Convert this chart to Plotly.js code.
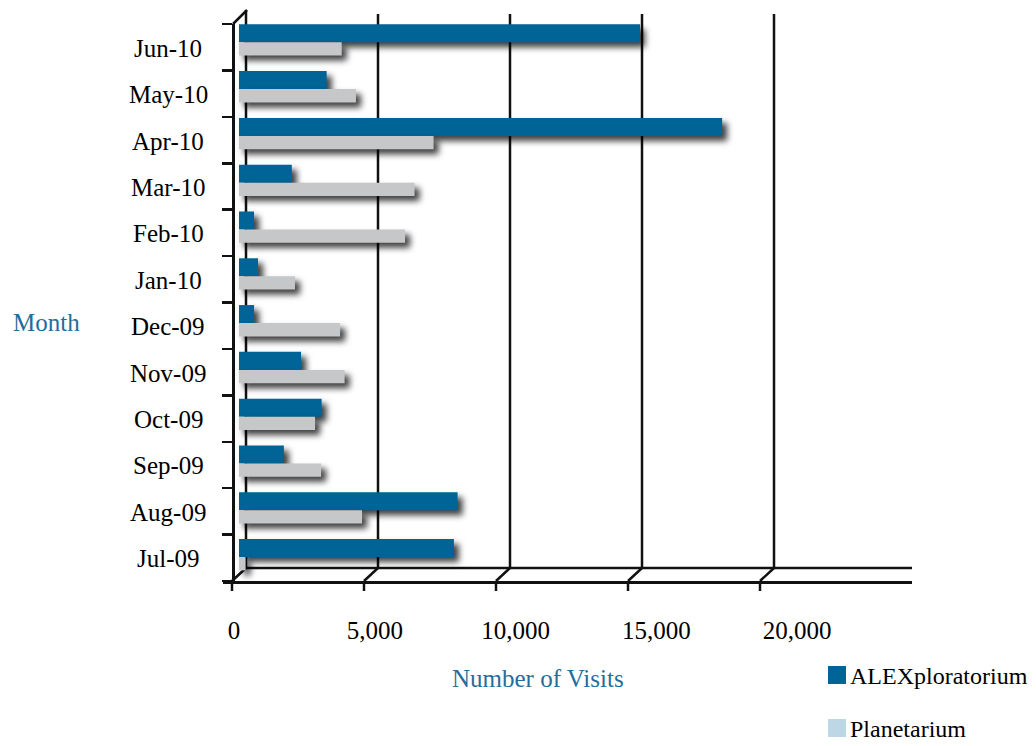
<!DOCTYPE html>
<html>
<head>
<meta charset="utf-8">
<script src="https://cdn.plot.ly/plotly-3.0.1.min.js"></script>
<style>
  html, body { margin: 0; padding: 0; background: #fff; }
  #chart { width: 1036px; height: 746px; }
  .barlayer .point path { filter: drop-shadow(5px 5px 3px rgba(0,0,0,0.75)); }
</style>
</head>
<body>
<div id="chart"></div>
<script>
// ---- data ----
const months = ['Jul-09','Aug-09','Sep-09','Oct-09','Nov-09','Dec-09','Jan-10','Feb-10','Mar-10','Apr-10','May-10','Jun-10'];
const alexVisits = [8140, 8280, 1700, 3130, 2350, 570, 720, 570, 2000, 18300, 3320, 15190];
const planVisits = [250, 4660, 3110, 2880, 4000, 3830, 2120, 6290, 6650, 7370, 4430, 3890];
const seriesNames = ['ALEXploratorium', 'Planetarium'];
const barColors = ['#006496', '#c6c7c9'];
const legendColors = ['#006496', '#bdd7e6'];
const xTickVals = [0, 5000, 10000, 15000, 20000];
const xTickText = ['0', '5,000', '10,000', '15,000', '20,000'];
const xTitle = 'Number of Visits';
const yTitle = 'Month';

// ---- geometry helpers (page pixels -> paper) ----
const L = 223, R = 912, T = 24, B = 581;
const px = p => (p - L) / (R - L);
const py = p => (B - p) / (B - T);
const FONT = 'Liberation Serif, Times New Roman, serif';
const TITLE_COLOR = '#1e6e9e';
const LINE = {color: '#111', width: 2.5};

const traces = [
  {type: 'bar', orientation: 'h', name: seriesNames[0], y: months, x: alexVisits,
   marker: {color: barColors[0], line: {width: 0}}, width: 0.385, offset: 0,
   showlegend: false, hoverinfo: 'x+y'},
  {type: 'bar', orientation: 'h', name: seriesNames[1], y: months, x: planVisits,
   marker: {color: barColors[1], line: {width: 0}}, width: 0.284, offset: -0.284,
   showlegend: false, hoverinfo: 'x+y'},
  {type: 'scatter', x: [null], y: [null], xaxis: 'x2', yaxis: 'y2',
   showlegend: false, hoverinfo: 'skip'}
];

const shapes = [];
xTickVals.forEach(v => {
  // back wall grid line
  shapes.push({type: 'line', layer: 'below', xref: 'x', xsizemode: 'pixel', xanchor: v,
    x0: 7, x1: 7, yref: 'paper', y0: py(568), y1: py(v === 0 ? 10 : 14), line: LINE});
  // floor diagonal
  shapes.push({type: 'line', layer: 'below', xref: 'x', xsizemode: 'pixel', xanchor: v,
    x0: -7, x1: 7, yref: 'paper', y0: py(581), y1: py(568), line: LINE});
  // front tick
  shapes.push({type: 'line', layer: 'below', xref: 'x', xsizemode: 'pixel', xanchor: v,
    x0: -7, x1: -7, yref: 'paper', y0: py(581), y1: py(591), line: LINE});
});
// back floor line
shapes.push({type: 'line', layer: 'below', xref: 'paper', yref: 'paper',
  x0: px(246), x1: 1, y0: py(568), y1: py(568), line: LINE});
// top corner diagonal
shapes.push({type: 'line', layer: 'below', xref: 'paper', yref: 'paper',
  x0: px(233), y0: py(24), x1: px(247), y1: py(10), line: LINE});

const annotations = [];
months.forEach((m, i) => {
  annotations.push({xref: 'paper', yref: 'y2', x: px(168), y: i, text: m, showarrow: false,
    xanchor: 'center', yanchor: 'middle', yshift: -1, font: {family: FONT, size: 25, color: '#000'}});
});
annotations.push({xref: 'paper', yref: 'paper', x: px(46), y: py(322), text: yTitle, showarrow: false,
  xanchor: 'center', yanchor: 'middle', font: {family: FONT, size: 25, color: TITLE_COLOR}});
annotations.push({xref: 'paper', yref: 'paper', x: px(538), y: py(678), text: xTitle, showarrow: false,
  xanchor: 'center', yanchor: 'middle', font: {family: FONT, size: 25, color: TITLE_COLOR}});

// custom legend
const legTop = [666, 719];
seriesNames.forEach((n, i) => {
  shapes.push({type: 'rect', xref: 'paper', yref: 'paper', x0: px(828), x1: px(846),
    y0: py(legTop[i]), y1: py(legTop[i] + 18), fillcolor: legendColors[i], line: {width: 0}});
  annotations.push({xref: 'paper', yref: 'paper', x: px(849), y: py(legTop[i] + 10), text: n,
    showarrow: false, xanchor: 'left', yanchor: 'middle', borderpad: 0,
    font: {family: FONT, size: 24, color: '#000'}});
});

const layout = {
  width: 1036, height: 746,
  margin: {l: L, r: 1036 - R, t: T, b: 746 - B, pad: 0},
  paper_bgcolor: '#fff', plot_bgcolor: 'rgba(0,0,0,0)',
  barmode: 'overlay',
  showlegend: false,
  font: {family: FONT, size: 25, color: '#000'},
  xaxis: {range: [-606, 25492], showgrid: false, zeroline: false, showticklabels: false,
    ticks: '', showline: true, linecolor: '#111', linewidth: 2.5, fixedrange: true},
  yaxis: {type: 'category', categoryorder: 'array', categoryarray: months,
    range: [-0.511, 11.391], showgrid: false, zeroline: false, showticklabels: false,
    ticks: '', showline: false, fixedrange: true},
  xaxis2: {overlaying: 'x', anchor: 'y2', side: 'bottom', range: [-391, 24085],
    tickmode: 'array', tickvals: xTickVals, ticktext: xTickText, ticks: '',
    showgrid: false, zeroline: false, showline: false, ticklabelstandoff: 32,
    tickfont: {family: FONT, size: 25, color: '#000'}},
  yaxis2: {overlaying: 'y', anchor: 'free', position: px(233), side: 'left',
    range: [-0.5, 11.5], tickmode: 'array',
    tickvals: months.map((m, i) => i - 0.5).concat([months.length - 0.5]),
    ticks: 'outside', ticklen: 10, tickwidth: 2.5, tickcolor: '#111',
    showticklabels: false, showgrid: false, zeroline: false,
    showline: true, linecolor: '#111', linewidth: 2.5},
  shapes: shapes,
  annotations: annotations
};

Plotly.newPlot('chart', traces, layout, {displayModeBar: false, staticPlot: true});
</script>
</body>
</html>
